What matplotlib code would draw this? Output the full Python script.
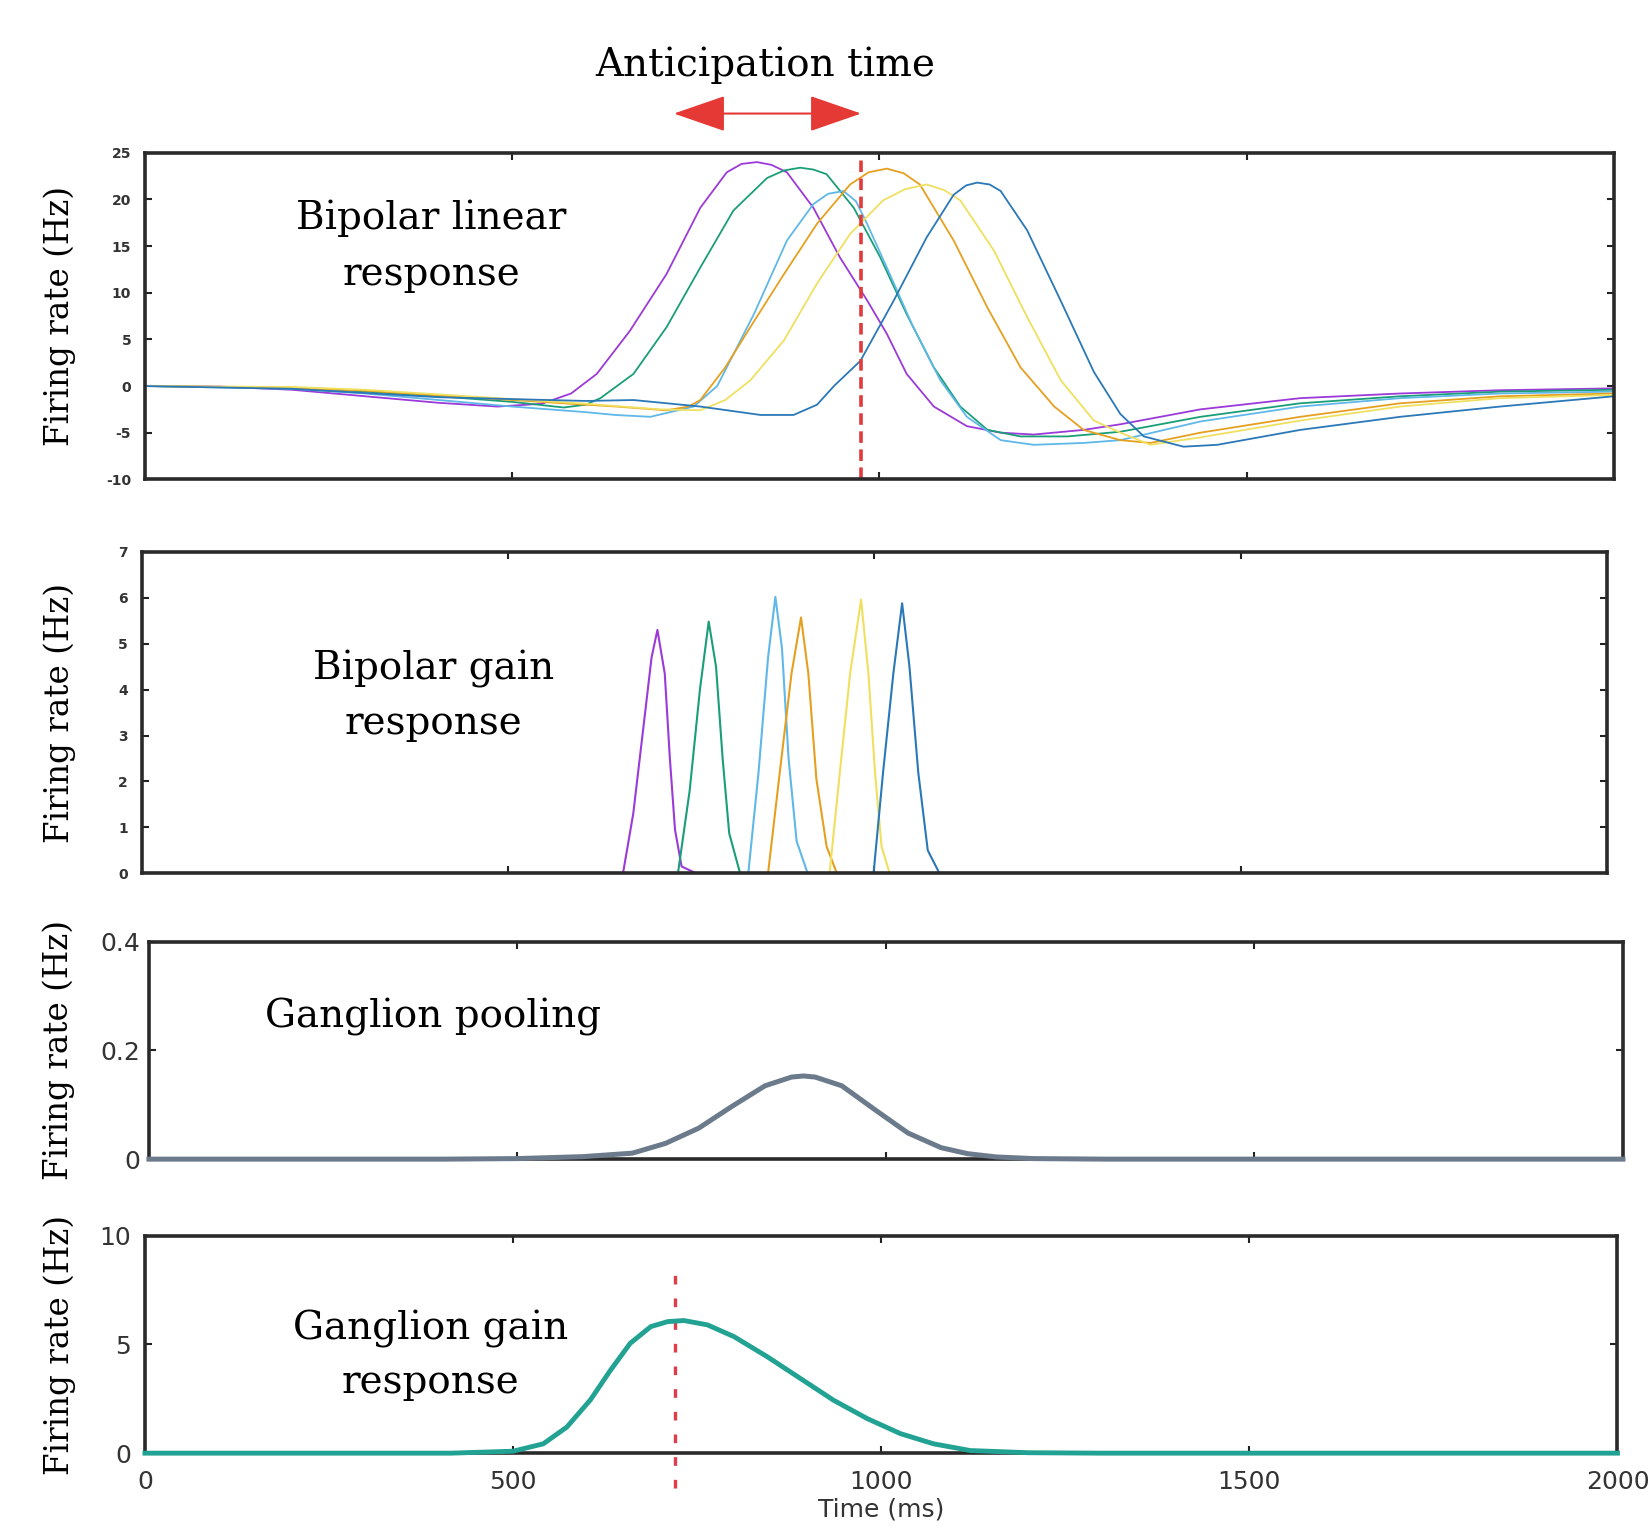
import matplotlib.pyplot as plt

plt.rcParams['axes.unicode_minus'] = False

# time window (ms)
t_max = 2000
anticipation_start = 720
anticipation_end = 975

# Bipolar linear response (Hz), six cells
lin_purple_t = [0, 100, 200, 300, 400, 480, 540, 580, 615, 660, 710, 756, 792, 812, 833, 853, 874, 910, 946, 983,
                1010, 1037, 1074, 1119, 1165, 1210, 1278, 1328, 1437, 1573, 1709, 1845, 2000]
lin_purple_r = [0, -0.05, -0.4, -1.1, -1.8, -2.2, -1.9, -0.8, 1.3, 5.9, 12.0, 19.1, 22.9, 23.8, 24.0, 23.7, 22.9, 19.1,
                13.8, 9.2, 5.6, 1.3, -2.2, -4.3, -5.0, -5.2, -4.7, -4.1, -2.5, -1.3, -0.8, -0.45, -0.25]

lin_green_t = [0, 200, 300, 400, 500, 570, 600, 620, 665, 710, 756, 801, 847, 870, 892, 910, 928, 965, 1001, 1037,
               1074, 1110, 1147, 1192, 1256, 1328, 1437, 1573, 1709, 1845, 2000]
lin_green_r = [0, -0.2, -0.6, -1.1, -1.7, -2.3, -2.0, -1.3, 1.3, 6.3, 12.7, 18.8, 22.3, 23.1, 23.4, 23.2, 22.7, 19.1,
               13.8, 7.7, 2.0, -2.2, -4.7, -5.4, -5.4, -4.9, -3.3, -1.85, -1.1, -0.6, -0.4]

lin_cyan_t = [0, 200, 300, 400, 500, 600, 640, 688, 747, 779, 792, 829, 874, 910, 930, 951, 968, 983, 1010, 1046,
              1083, 1119, 1165, 1210, 1278, 1328, 1437, 1573, 1709, 1845, 2000]
lin_cyan_r = [0, -0.3, -0.8, -1.5, -2.2, -2.8, -3.1, -3.3, -2.2, 0, 2.0, 7.7, 15.6, 19.5, 20.6, 20.9, 19.8, 17.4, 12.7,
              6.3, 0.6, -3.3, -5.8, -6.3, -6.1, -5.8, -3.8, -2.2, -1.3, -0.8, -0.6]

lin_orange_t = [0, 200, 300, 400, 500, 600, 642, 710, 740, 756, 790, 824, 870, 915, 960, 985, 1010, 1033, 1055,
                1101, 1147, 1192, 1238, 1278, 1328, 1369, 1437, 1573, 1709, 1845, 2000]
lin_orange_r = [0, -0.2, -0.5, -1.0, -1.5, -2.0, -2.2, -2.6, -2.2, -1.5, 2.0, 6.3, 12.0, 17.4, 21.6, 22.9, 23.3, 22.8,
                21.6, 15.6, 8.4, 2.0, -2.2, -4.7, -5.8, -6.1, -5.0, -3.3, -1.85, -1.1, -0.8]

lin_yellow_t = [0, 200, 300, 400, 500, 600, 700, 756, 790, 824, 870, 915, 960, 1005, 1035, 1064, 1088, 1110, 1156,
                1201, 1247, 1292, 1328, 1369, 1437, 1573, 1709, 1845, 2000]
lin_yellow_r = [0, -0.1, -0.4, -0.9, -1.4, -1.9, -2.5, -2.6, -1.5, 0.6, 4.9, 11.0, 16.3, 19.9, 21.1, 21.6, 21.0, 19.9,
                14.5, 7.4, 0.6, -3.7, -5.0, -6.3, -5.5, -3.7, -2.2, -1.3, -0.95]

lin_blue_t = [0, 200, 400, 600, 665, 756, 838, 883, 915, 938, 974, 1019, 1064, 1101, 1118, 1133, 1150, 1165, 1201,
              1247, 1292, 1328, 1360, 1414, 1460, 1573, 1709, 1845, 2000]
lin_blue_r = [0, -0.3, -1.2, -1.6, -1.5, -2.2, -3.1, -3.1, -2.0, 0, 2.7, 9.1, 15.9, 20.5, 21.5, 21.8, 21.6, 20.9, 16.7,
              9.1, 1.5, -3.0, -5.4, -6.5, -6.3, -4.7, -3.3, -2.2, -1.1]

# Bipolar gain response (Hz)
gain_purple_t = [657, 671, 685, 696, 704, 714, 721, 728, 737, 757]
gain_purple_r = [0, 1.3, 3.2, 4.7, 5.3, 4.35, 2.5, 0.95, 0.15, 0]
gain_green_t = [732, 748, 762, 774, 784, 793, 802, 816]
gain_green_r = [0, 1.8, 4.0, 5.48, 4.5, 2.5, 0.87, 0.05]
gain_cyan_t = [828, 842, 855, 865, 874, 883, 894, 908]
gain_cyan_r = [0, 2.2, 4.7, 6.02, 4.9, 2.5, 0.7, 0.05]
gain_orange_t = [855, 871, 887, 900, 910, 921, 935, 949]
gain_orange_r = [0, 2.2, 4.35, 5.57, 4.35, 2.05, 0.58, 0]
gain_yellow_t = [939, 953, 967, 982, 992, 1001, 1010, 1021]
gain_yellow_r = [0, 2.2, 4.35, 5.96, 4.35, 2.2, 0.58, 0]
gain_blue_t = [999, 1012, 1026, 1038, 1048, 1060, 1073, 1089]
gain_blue_r = [0, 2.2, 4.35, 5.88, 4.5, 2.2, 0.5, 0]

# Ganglion pooling (Hz)
pool_t = [0, 400, 500, 589, 656, 701, 746, 791, 836, 872, 888, 904, 940, 985, 1030, 1075, 1111, 1150, 1200, 1300, 2000]
pool_r = [0, 0, 0.001, 0.0046, 0.011, 0.029, 0.057, 0.097, 0.135, 0.151, 0.153, 0.151, 0.135, 0.091, 0.048, 0.021,
          0.01, 0.004, 0.001, 0, 0]

# Ganglion gain response (Hz)
gg_t = [0, 415, 500, 541, 573, 605, 632, 659, 687, 710, 732, 764, 800, 845, 890, 935, 981, 1026, 1071, 1121, 1200,
        1300, 2000]
gg_r = [0, 0, 0.09, 0.43, 1.2, 2.45, 3.8, 5.05, 5.82, 6.05, 6.1, 5.9, 5.36, 4.44, 3.44, 2.44, 1.59, 0.9, 0.43, 0.12,
        0.02, 0, 0]

colors = ['#9b3ad8', '#1a9e78', '#5fb8e8', '#e6a020', '#efe060', '#2a78b8']
serif = 'DejaVu Serif'

fig = plt.figure(figsize=(16.51, 15.29), dpi=100)
ax1 = fig.add_axes([0.0879, 0.6865, 0.8896, 0.2136])
ax2 = fig.add_axes([0.0858, 0.4288, 0.8875, 0.2103])
ax3 = fig.add_axes([0.0902, 0.2419, 0.8928, 0.1422])
ax4 = fig.add_axes([0.0878, 0.0496, 0.8919, 0.1422])

lin = [(lin_purple_t, lin_purple_r), (lin_green_t, lin_green_r), (lin_cyan_t, lin_cyan_r),
       (lin_orange_t, lin_orange_r), (lin_yellow_t, lin_yellow_r), (lin_blue_t, lin_blue_r)]
for (t, r), c in zip(lin, colors):
    ax1.plot(t, r, color=c, lw=1.3)
ax1.axvline(anticipation_end, color='#e03a3a', lw=2.6, ls=(0, (3.2, 1.8)))
ax1.set_ylim(-10, 25)
ax1.set_yticks(range(-10, 26, 5))

gain = [(gain_purple_t, gain_purple_r), (gain_green_t, gain_green_r), (gain_cyan_t, gain_cyan_r),
        (gain_orange_t, gain_orange_r), (gain_yellow_t, gain_yellow_r), (gain_blue_t, gain_blue_r)]
for (t, r), c in zip(gain, colors):
    ax2.plot(t, r, color=c, lw=1.5)
ax2.set_ylim(0, 7)
ax2.set_yticks(range(0, 8))

ax3.plot(pool_t, pool_r, color='#6b7b8b', lw=3.6, zorder=3, clip_on=False)
ax3.set_ylim(0, 0.4)
ax3.set_yticks([0, 0.2, 0.4])
ax3.set_yticklabels(['0', '0.2', '0.4'])

ax4.plot(gg_t, gg_r, color='#22a292', lw=3.5, zorder=3, clip_on=False)
ax4.plot([anticipation_start, anticipation_start], [-1.6, 8.65], color='#e03c4c', lw=2.4,
         ls=(0, (2.6, 4.2)), clip_on=False)
ax4.set_ylim(0, 10)
ax4.set_yticks([0, 5, 10])
ax4.set_xticks(range(0, 2001, 500))
ax4.set_xlabel('Time (ms)', fontsize=18, color='#333333', labelpad=3)

for ax in (ax1, ax2, ax3):
    ax.set_xticks([500, 1000, 1500])
    ax.set_xticklabels([])

for ax in (ax1, ax2, ax3, ax4):
    ax.set_xlim(0, t_max)
    ax.tick_params(direction='in', top=True, right=True, length=5, width=1.5, color='#222222')
    for s in ax.spines.values():
        s.set_linewidth(2.6)
        s.set_color('#2a2a2a')
    ax.set_ylabel('Firing rate (Hz)', fontsize=23.5, va='center')
    ax.yaxis.label.set_family(serif)

for ax in (ax1, ax2):
    ax.tick_params(axis='y', labelsize=10, pad=10, labelcolor='#333333')
    for lab in ax.get_yticklabels():
        lab.set_fontweight('bold')
ax3.tick_params(axis='y', labelsize=18, pad=6, labelcolor='#333333')
ax4.tick_params(labelsize=18, labelcolor='#333333')
ax4.tick_params(axis='y', pad=10)
ax4.tick_params(axis='x', pad=12)

ax1.yaxis.set_label_coords(-0.058, 0.5)
ax2.yaxis.set_label_coords(-0.056, 0.5)
ax3.yaxis.set_label_coords(-0.061, 0.5)
ax4.yaxis.set_label_coords(-0.058, 0.5)

# panel captions, one text per line
title_kw = dict(fontsize=28, family=serif, ha='center', va='baseline')
ax1.text(390, 16.8, 'Bipolar linear', **title_kw)
ax1.text(390, 10.87, 'response', **title_kw)
ax2.text(398, 4.21, 'Bipolar gain', **title_kw)
ax2.text(398, 3.03, 'response', **title_kw)
ax3.text(386, 0.243, 'Ganglion pooling', **title_kw)
ax4.text(388, 5.24, 'Ganglion gain', **title_kw)
ax4.text(388, 2.78, 'response', **title_kw)

fig.text(0.4633, 0.9503, 'Anticipation time', **title_kw)
ax1.annotate('', xy=(anticipation_end, 1.12), xytext=(anticipation_start, 1.12),
             xycoords=('data', 'axes fraction'), textcoords=('data', 'axes fraction'),
             arrowprops=dict(arrowstyle='<|-|>,head_length=1.1,head_width=0.38', mutation_scale=30,
                             color='#e53935', lw=1.5, shrinkA=0, shrinkB=0),
             annotation_clip=False)

fig.savefig('out.png', dpi=100, facecolor='white')
